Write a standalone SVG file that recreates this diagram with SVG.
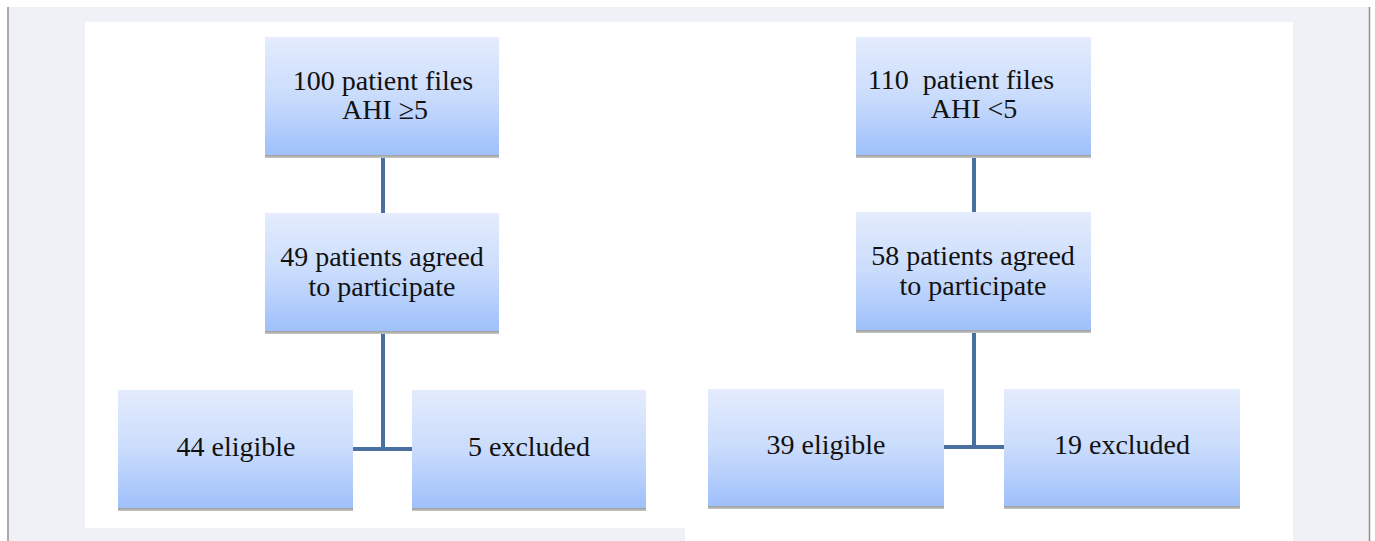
<svg xmlns="http://www.w3.org/2000/svg" width="1375" height="541" viewBox="0 0 1375 541">
<defs>
<linearGradient id="g" x1="0" y1="0" x2="0" y2="1">
<stop offset="0" stop-color="#e4ecfd"/>
<stop offset="0.5" stop-color="#cadcfc"/>
<stop offset="1" stop-color="#9fc0fb"/>
</linearGradient>
<linearGradient id="sh" x1="0" y1="0" x2="0" y2="1">
<stop offset="0" stop-color="#8e8e8e"/>
<stop offset="1" stop-color="#c8c8c8"/>
</linearGradient>
</defs>
<style>
.box{fill:url(#g);}
.shadow{fill:url(#sh);}
.t{font-family:'Liberation Serif','DejaVu Serif',serif;font-size:28px;fill:#111;text-anchor:middle;}
.c{stroke:#4a6fa3;stroke-width:4;fill:none;}
</style>
<rect x="0" y="0" width="1375" height="541" fill="#ffffff"/>
<rect x="9" y="7" width="1360" height="534" fill="#f0f1f7"/>
<line x1="8" y1="7" x2="8" y2="541" stroke="#8f8f8f" stroke-width="1.5"/>
<line x1="1369.5" y1="7" x2="1369.5" y2="541" stroke="#8f8f8f" stroke-width="1.5"/>
<path d="M85 22 H1293 V541 H685 V528 H85 Z" fill="#ffffff"/>
<g id="connectors">
<line class="c" x1="383" y1="157" x2="383" y2="213"/>
<polyline class="c" points="383,333 383,449"/>
<line class="c" x1="353" y1="449" x2="412" y2="449"/>
<line class="c" x1="974" y1="156" x2="974" y2="212"/>
<polyline class="c" points="974,332 974,447"/>
<line class="c" x1="944" y1="447" x2="1004" y2="447"/>
</g>
<g id="n1">
<rect class="shadow" x="265" y="154" width="234" height="4"/>
<rect class="box" x="265" y="37" width="234" height="118"/>
<text class="t" x="383" y="90">100 patient files</text>
<text class="t" x="385" y="119">AHI ≥5</text>
</g>
<g id="n2">
<rect class="shadow" x="265" y="330" width="234" height="4"/>
<rect class="box" x="265" y="213" width="234" height="118"/>
<text class="t" x="382" y="266">49 patients agreed</text>
<text class="t" x="382" y="296">to participate</text>
</g>
<g id="n3">
<rect class="shadow" x="118" y="507" width="235" height="4"/>
<rect class="box" x="118" y="390" width="235" height="118"/>
<text class="t" x="236" y="456">44 eligible</text>
</g>
<g id="n4">
<rect class="shadow" x="412" y="507" width="234" height="4"/>
<rect class="box" x="412" y="390" width="234" height="118"/>
<text class="t" x="529" y="456">5 excluded</text>
</g>
<g id="n5">
<rect class="shadow" x="856" y="154" width="235" height="4"/>
<rect class="box" x="856" y="37" width="235" height="118"/>
<text class="t" x="961" y="89" xml:space="preserve">110  patient files</text>
<text class="t" x="974" y="118">AHI &lt;5</text>
</g>
<g id="n6">
<rect class="shadow" x="856" y="329" width="235" height="4"/>
<rect class="box" x="856" y="212" width="235" height="118"/>
<text class="t" x="973" y="265">58 patients agreed</text>
<text class="t" x="973" y="295">to participate</text>
</g>
<g id="n7">
<rect class="shadow" x="708" y="505" width="236" height="4"/>
<rect class="box" x="708" y="389" width="236" height="117"/>
<text class="t" x="826" y="454">39 eligible</text>
</g>
<g id="n8">
<rect class="shadow" x="1004" y="505" width="236" height="4"/>
<rect class="box" x="1004" y="389" width="236" height="117"/>
<text class="t" x="1122" y="454">19 excluded</text>
</g>
</svg>
